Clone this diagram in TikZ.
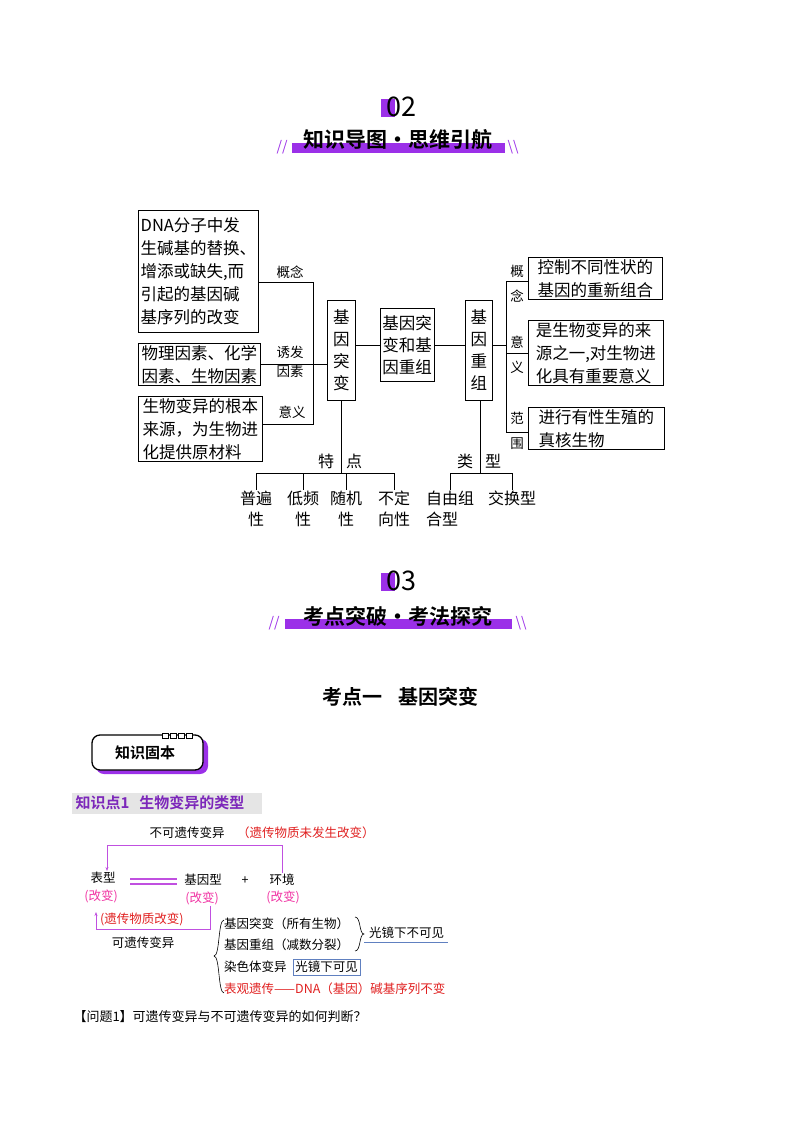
\documentclass[tikz,border=0pt]{standalone}
\usepackage{fontspec}
\setmainfont{Noto Sans CJK SC}
\newfontfamily\cjkb{Noto Sans CJK SC Bold}
\usetikzlibrary{arrows.meta}
\definecolor{pur}{HTML}{9B30E8}
\definecolor{lpur}{HTML}{C050E0}
\definecolor{myred}{HTML}{E02020}
\definecolor{lblue}{HTML}{6080C0}
\tikzset{
 bx/.style={draw,thick,align=left,inner sep=2pt,font=\fontsize{16.5}{23}\selectfont},
 vbx/.style={draw,thick,align=center,inner sep=2pt,font=\fontsize{16.5}{22}\selectfont},
 lbl/.style={font=\fontsize{13.5}{19}\selectfont,align=center,inner sep=1pt},
 vlbl/.style={font=\fontsize{13.5}{25}\selectfont,align=center,inner sep=1pt},
 leaf/.style={font=\fontsize{16}{21}\selectfont,align=center,inner sep=1pt,anchor=north},
 ln/.style={line width=0.8pt},
 sm/.style={font=\fontsize{12.5}{15}\selectfont,inner sep=1pt},
 smr/.style={sm,text=myred},
 pl/.style={draw=lpur,line width=1pt},
 hd/.style={font=\cjkb\fontsize{21}{24}\selectfont}
}
\begin{document}
\begin{tikzpicture}[x=1pt,y=-1pt]
\useasboundingbox (0,0) rectangle (800,1132);
% header 02
\fill[pur] (381,99) rectangle (395,117);
\node[font=\fontsize{27}{27}\selectfont] (n02) at (401,107) {02};
\fill[pur] (292,143) rectangle (505,153);
\node[hd] (t02) at (398,140) {知识导图·思维引航};
\node[text=pur,font=\itshape\fontsize{14}{14}\selectfont] (s1) at (282,147) {//};
\node[text=pur,font=\fontsize{14}{14}\selectfont] (s2) at (513,147) {\textbackslash\textbackslash};
% mind map
\node[bx,minimum width=120pt,minimum height=122pt,anchor=north west,align=left] (A) at (138,210) {DNA分子中发\\生碱基的替换、\\增添或缺失,而\\引起的基因碱\\基序列的改变};
\node[bx,minimum width=122pt,anchor=north west] (B) at (138,343) {物理因素、化学\\因素、生物因素};
\node[bx,minimum width=124pt,anchor=north west] (C) at (138,396) {生物变异的根本\\来源，为生物进\\化提供原材料};
\node[vbx,minimum width=28pt,minimum height=100pt,anchor=north west] (M) at (327,300) {基\\因\\突\\变};
\node[vbx,minimum width=46pt,minimum height=73pt,anchor=north west] (Z) at (380,308) {基因突\\变和基\\因重组};
\node[vbx,minimum width=27pt,minimum height=100pt,anchor=north west] (R) at (465,300) {基\\因\\重\\组};
\node[bx,minimum width=134pt,anchor=north west] (D) at (528,257) {控制不同性状的\\基因的重新组合};
\node[bx,minimum width=135pt,anchor=north west] (E) at (528,320) {是生物变异的来\\源之一,对生物进\\化具有重要意义};
\node[bx,minimum width=136pt,anchor=north west] (F) at (528,407) {进行有性生殖的\\真核生物};
\coordinate (v1) at (313,282); \coordinate (v3) at (313,424);
\draw[ln] (A.east|-v1) -- (v1) -- (v3) -- (C.east|-v3);
\draw[line width=1.6pt] (B.east) -- (M.west|-B.east);
\node[lbl] (l1) at (290,272) {概念};
\node[lbl] (l2) at (290,362) {诱发\\因素};
\node[lbl] (l3) at (292,412) {意义};
\draw[ln] (M.east|-Z.west) -- (Z.west);
\draw[ln] (Z.east) -- (R.west|-Z.east);
\coordinate (r1) at (506,281); \coordinate (r3) at (506,432);
\draw[ln] (R.east|-Z.east) -- (r1|-Z.east);
\draw[ln] (D.west|-r1) -- (r1) -- (r3) -- (F.west|-r3);
\draw[ln] (r1|-E.west) -- (E.west);
\node[vlbl] (l4) at (517,284) {概\\念};
\node[vlbl] (l5) at (517,355) {意\\义};
\node[vlbl] (l6) at (517,431) {范\\围};
% bottom trees
\coordinate (m1) at (341,473);
\draw[ln] (M.south-|m1) -- (m1);
\draw[ln] (256,473) -- (394,473);
\node[font=\fontsize{16}{18}\selectfont] (td) at (340,461) {特\hspace{12pt}点};
\node[leaf] (p1) at (256,490) {普遍\\性};
\node[leaf] (p2) at (303,490) {低频\\性};
\node[leaf] (p3) at (346,490) {随机\\性};
\node[leaf] (p4) at (394,490) {不定\\向性};
\foreach \n in {p1,p2,p3,p4} \draw[ln] (\n.north|-m1) -- (\n.north);
\coordinate (m2) at (480,473);
\draw[ln] (R.south-|m2) -- (m2);
\draw[ln] (450,473) -- (512,473);
\node[font=\fontsize{16}{18}\selectfont] (lx) at (479,461) {类\hspace{12pt}型};
\node[leaf,align=left] (q1) at (450,490) {自由组\\合型\phantom{组}};
\node[leaf] (q2) at (512,490) {交换型\\\phantom{性}};
\foreach \n in {q1,q2} \draw[ln] (\n.north|-m2) -- (\n.north);
% header 03
\fill[pur] (381,573) rectangle (395,591);
\node[font=\fontsize{27}{27}\selectfont] (n03) at (401,581) {03};
\fill[pur] (285,619) rectangle (512,629);
\node[hd] (t03) at (398,616) {考点突破·考法探究};
\node[text=pur,font=\itshape\fontsize{14}{14}\selectfont] (s3) at (274,623) {//};
\node[text=pur,font=\fontsize{14}{14}\selectfont] (s4) at (521,623) {\textbackslash\textbackslash};
\node[font=\cjkb\fontsize{20}{22}\selectfont] (kd) at (400,697) {考点一\hspace{16pt}基因突变};
% badge
\fill[pur,rounded corners=8pt] (96,739) rectangle (208,774);
\draw[line width=1.3pt,fill=white,rounded corners=8pt] (92,735) rectangle (203,770);
\foreach \i in {0,1,2,3} \draw[fill=white,line width=1pt] (162+\i*8,733) rectangle (168+\i*8,738);
\node[font=\cjkb\fontsize{15}{16}\selectfont] (bd) at (145,753) {知识固本};
\fill[gray!20] (72,793) rectangle (262,814);
\node[anchor=west,text=pur!80!black,font=\cjkb\fontsize{15}{16}\selectfont] (kp) at (72,803) {知识点1\hspace{10pt}生物变异的类型};
% bottom diagram
\node[sm] (bk) at (187,833) {不可遗传变异};
\node[smr,anchor=west] (bkr) at (236,833) {（遗传物质未发生改变）};
\node[sm] (bx1) at (103,878) {表型};
\node[sm,text=magenta!80] (bx1g) at (101,896) {(改变)};
\node[sm] (jy) at (203,880) {基因型};
\node[sm,text=magenta!80] (jyg) at (202,898) {(改变)};
\node[sm] (pl) at (245,881) {+};
\node[sm] (hj) at (282,880) {环境};
\node[sm,text=magenta!80] (hjg) at (283,897) {(改变)};
\draw[pl,-{Stealth[length=4pt]}] (hj.north) -- (282,845) -- (107,845) -- (bx1.north-|107,0);
\draw[lpur,line width=1.3pt] (130,879) -- (177,879) (130,884) -- (177,884);
\draw[pl,-{Stealth[length=4pt]}] (jyg.south-|210,0) -- (210,929) -- (96,929) -- (96,912);
\node[smr,anchor=west] (yc) at (99,919) {(遗传物质改变)};
\node[sm] (ky) at (143,943) {可遗传变异};
\draw[line width=0.6pt] (224,920) .. controls (218,920) and (220,956) .. (214,956) .. controls (220,956) and (218,993) .. (224,993);
\node[sm,anchor=west] (g1) at (223,924) {基因突变（所有生物）};
\node[sm,anchor=west] (g2) at (223,945) {基因重组（减数分裂）};
\draw[line width=0.6pt] (355,917) .. controls (361,917) and (359,934) .. (364,934) .. controls (359,934) and (361,951) .. (355,951);
\node[sm,anchor=west] (gj) at (368,933) {光镜下不可见};
\draw[lblue,line width=0.6pt] (364,942) -- (448,942);
\node[sm,anchor=west] (g3) at (223,967) {染色体变异};
\node[sm,draw=lblue,line width=0.6pt,inner sep=2pt,anchor=west] (gk) at (293,967) {光镜下可见};
\node[smr,anchor=west] (g4) at (223,989) {表观遗传——DNA（基因）碱基序列不变};
\node[anchor=west,font=\fontsize{13}{15}\selectfont] (q) at (70,1017) {【问题1】可遗传变异与不可遗传变异的如何判断？};
\end{tikzpicture}
\end{document}
